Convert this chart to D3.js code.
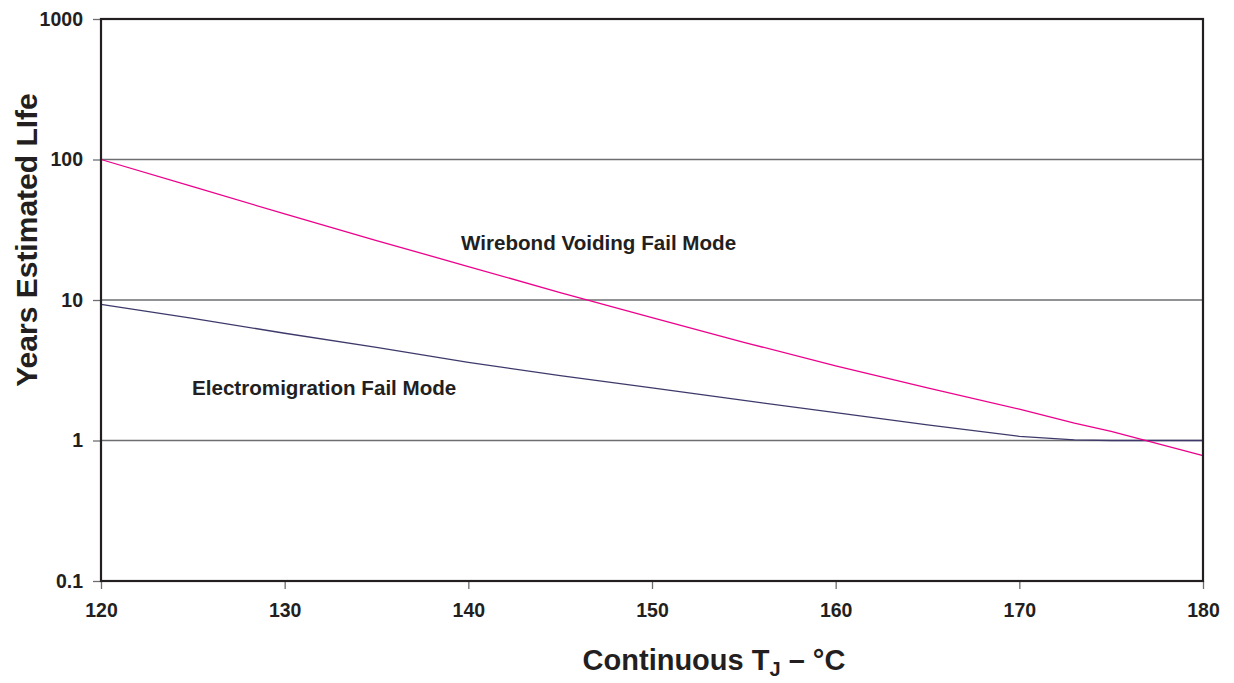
<!DOCTYPE html>
<html>
<head>
<meta charset="utf-8">
<script src="https://cdn.jsdelivr.net/npm/d3@7"></script>
<style>
  body { margin: 0; background: #fff; }
  text { font-family: "Liberation Sans", Arial, sans-serif; fill: #231f20; }
</style>
</head>
<body>
<div id="chart"></div>
<script>
// junction temperature (deg C) and estimated life (years)
const temps = [120, 125, 130, 135, 140, 145, 150, 155, 160, 165, 170, 173, 175, 180];
const wirebondLife = [100, 64, 41, 26.5, 17.3, 11.3, 7.5, 5.0, 3.4, 2.37, 1.67, 1.33, 1.16, 0.78];
const electroLife = [9.3, 7.4, 5.8, 4.6, 3.6, 2.9, 2.37, 1.93, 1.58, 1.29, 1.07, 1.01, 1.0, 1.0];

const xTicks = [120, 130, 140, 150, 160, 170, 180];
const yTicks = [0.1, 1, 10, 100, 1000];
const yTickLabels = ["0.1", "1", "10", "100", "1000"];

const width = 1234, height = 683;
const margin = {top: 19, right: 31, bottom: 102, left: 101};
const w = width - margin.left - margin.right;
const h = height - margin.top - margin.bottom;

const svg = d3.select("#chart").append("svg")
    .attr("width", width)
    .attr("height", height);

const g = svg.append("g")
    .attr("transform", "translate(" + margin.left + "," + margin.top + ")");

const x = d3.scaleLinear().domain([120, 180]).range([0, w]);
const y = d3.scaleLog().domain([0.1, 1000]).range([h, 0]);

// gridlines
g.selectAll(".grid")
    .data(yTicks.slice(1, -1))
    .enter().append("line")
    .attr("class", "grid")
    .attr("x1", 0).attr("x2", w)
    .attr("y1", d => y(d)).attr("y2", d => y(d))
    .attr("stroke", "#6d6e71")
    .attr("stroke-width", 1.3);

// axes
const xAxis = d3.axisBottom(x).tickValues(xTicks).tickSize(8).tickPadding(14).tickFormat(d3.format("d"));
const yAxis = d3.axisLeft(y).tickValues(yTicks).tickSize(8).tickPadding(10)
    .tickFormat((d, i) => yTickLabels[i]);

const gx = g.append("g").attr("transform", "translate(0," + h + ")").call(xAxis);
const gy = g.append("g").call(yAxis);

[gx, gy].forEach(a => {
    a.select(".domain").remove();
    a.selectAll(".tick line").attr("stroke", "#6d6e71").attr("stroke-width", 1.3);
    a.selectAll(".tick text")
        .attr("font-size", 19.5)
        .attr("font-weight", "bold")
        .attr("fill", "#231f20")
        .style("font-family", "'Liberation Sans', Arial, sans-serif");
});

// series
const line = d3.line()
    .x(d => x(d[0]))
    .y(d => y(d[1]));

g.append("path")
    .datum(temps.map((t, i) => [t, electroLife[i]]))
    .attr("fill", "none")
    .attr("stroke", "#3d3a6b")
    .attr("stroke-width", 1.3)
    .attr("d", line);

g.append("path")
    .datum(temps.map((t, i) => [t, wirebondLife[i]]))
    .attr("fill", "none")
    .attr("stroke", "#ec008c")
    .attr("stroke-width", 1.3)
    .attr("d", line);

// plot frame
g.append("rect")
    .attr("width", w).attr("height", h)
    .attr("fill", "none")
    .attr("stroke", "#231f20")
    .attr("stroke-width", 2.2);

// annotations
g.append("text")
    .attr("x", 360).attr("y", 231)
    .attr("font-size", 20.6).attr("font-weight", "bold")
    .text("Wirebond Voiding Fail Mode");

g.append("text")
    .attr("x", 91).attr("y", 376)
    .attr("font-size", 20.6).attr("font-weight", "bold")
    .text("Electromigration Fail Mode");

// axis titles
const xt = svg.append("text")
    .attr("x", 714)
    .attr("y", 670)
    .attr("text-anchor", "middle")
    .attr("font-size", 29).attr("font-weight", "bold");
xt.append("tspan").text("Continuous T");
xt.append("tspan").attr("font-size", 20).attr("dy", 6).text("J");
xt.append("tspan").attr("dy", -6).text(" – °C");

svg.append("text")
    .attr("transform", "translate(37,240) rotate(-90)")
    .attr("text-anchor", "middle")
    .attr("font-size", 30).attr("font-weight", "bold")
    .text("Years Estimated LIfe");
</script>
</body>
</html>
